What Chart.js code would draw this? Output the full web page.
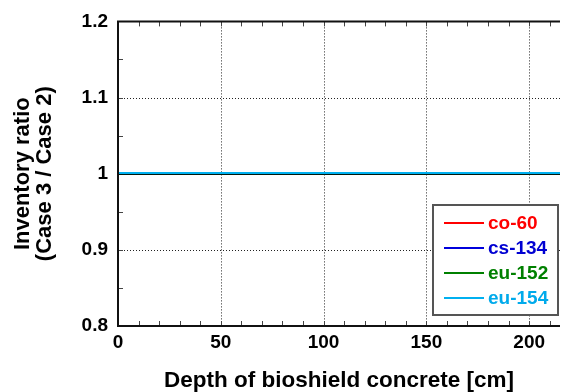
<!DOCTYPE html>
<html>
<head>
<meta charset="utf-8">
<script src="https://cdn.jsdelivr.net/npm/chart.js@4"></script>
<style>
  body { margin: 0; background: #fff; }
</style>
</head>
<body>
<canvas id="myChart" width="561" height="392"></canvas>
<script>
const depths = [0, 10, 20, 30, 40, 50, 60, 70, 80, 90, 100, 110, 120, 130, 140, 150, 160, 170, 180, 190, 200, 210, 215]
const co60 = [1, 1, 1, 1, 1, 1, 1, 1, 1, 1, 1, 1, 1, 1, 1, 1, 1, 1, 1, 1, 1, 1, 1]
const cs134 = [1, 1, 1, 1, 1, 1, 1, 1, 1, 1, 1, 1, 1, 1, 1, 1, 1, 1, 1, 1, 1, 1, 1]
const eu152 = [1, 1, 1, 1, 1, 1, 1, 1, 1, 1, 1, 1, 1, 1, 1, 1, 1, 1, 1, 1, 1, 1, 1]
const eu154 = [1.001, 1.001, 1.001, 1.001, 1.001, 1.001, 1.001, 1.001, 1.001, 1.001, 1.001, 1.001, 1.001, 1.001, 1.001, 1.001, 1.001, 1.001, 1.001, 1.001, 1.001, 1.001, 1.001]
const reference = [1, 1, 1, 1, 1, 1, 1, 1, 1, 1, 1, 1, 1, 1, 1, 1, 1, 1, 1, 1, 1, 1, 1]

const xTicks = [0, 50, 100, 150, 200]
const yTicks = [0.8, 0.9, 1, 1.1, 1.2]

const redColor = 'rgb(255, 0, 0)'
const blueColor = 'rgb(0, 0, 220)'
const greenColor = 'rgb(0, 128, 0)'
const cyanColor = 'rgb(0, 176, 240)'

const fontFamily = '"Liberation Sans", Arial, sans-serif'

const toPoints = (ys) => ys.map((y, i) => ({ x: depths[i], y: y }))

// frame, dotted grid and inward minor ticks
const framePlugin = {
    id: 'frame',
    beforeDatasetsDraw(chart) {
        const { ctx, chartArea: a, scales: { x, y } } = chart
        ctx.save()
        ctx.strokeStyle = '#222'
        ctx.lineWidth = 1
        ctx.setLineDash([1, 2])
        xTicks.slice(1).forEach(v => {
            const px = Math.round(x.getPixelForValue(v)) + 0.5
            ctx.beginPath(); ctx.moveTo(px, a.top); ctx.lineTo(px, a.bottom); ctx.stroke()
        })
        yTicks.slice(1, -1).forEach(v => {
            const py = Math.round(y.getPixelForValue(v)) + 0.5
            ctx.beginPath(); ctx.moveTo(a.left, py); ctx.lineTo(a.right, py); ctx.stroke()
        })
        ctx.setLineDash([])
        ctx.strokeStyle = '#444'
        for (let v = 10; v < 215; v += 10) {
            const px = Math.round(x.getPixelForValue(v)) + 0.5
            ctx.beginPath(); ctx.moveTo(px, a.bottom); ctx.lineTo(px, a.bottom - 5); ctx.stroke()
            ctx.beginPath(); ctx.moveTo(px, a.top); ctx.lineTo(px, a.top + 5); ctx.stroke()
        }
        for (let v = 0.85; v < 1.2; v += 0.05) {
            const py = Math.round(y.getPixelForValue(v)) + 0.5
            ctx.beginPath(); ctx.moveTo(a.left, py); ctx.lineTo(a.left + 5, py); ctx.stroke()
        }
        ctx.restore()
    },
    afterDatasetsDraw(chart) {
        const { ctx, chartArea: a } = chart
        ctx.save()
        ctx.strokeStyle = '#111'
        ctx.lineWidth = 2
        ctx.beginPath()
        ctx.moveTo(a.right, a.top)
        ctx.lineTo(a.left, a.top)
        ctx.lineTo(a.left, a.bottom)
        ctx.lineTo(a.right, a.bottom)
        ctx.stroke()

        // legend box
        const bx = 433, by = 205, bw = 125, bh = 110
        ctx.fillStyle = '#fff'
        ctx.fillRect(bx, by, bw, bh)
        ctx.strokeStyle = '#555'
        ctx.lineWidth = 2
        ctx.strokeRect(bx, by, bw, bh)
        ctx.font = 'bold 19px ' + fontFamily
        ctx.textBaseline = 'middle'
        chart.data.datasets.filter(d => d.label !== 'ref').forEach((d, i) => {
            const ly = by + 18 + i * 25
            ctx.strokeStyle = d.borderColor
            ctx.lineWidth = 2
            ctx.beginPath(); ctx.moveTo(bx + 11, ly); ctx.lineTo(bx + 51, ly); ctx.stroke()
            ctx.fillStyle = d.textColor
            ctx.fillText(d.label, bx + 55, ly + 1)
        })
        ctx.restore()
    }
}

const ctx = document.getElementById('myChart')

new Chart(ctx, {
    type: 'line',
    data: {
        datasets: [
            { label: 'co-60', data: toPoints(co60), borderColor: redColor, textColor: 'rgb(255, 0, 0)', order: 4 },
            { label: 'cs-134', data: toPoints(cs134), borderColor: blueColor, textColor: 'rgb(0, 0, 210)', order: 3 },
            { label: 'eu-152', data: toPoints(eu152), borderColor: greenColor, textColor: 'rgb(0, 128, 0)', order: 2 },
            { label: 'eu-154', data: toPoints(eu154), borderColor: cyanColor, textColor: 'rgb(0, 170, 235)', order: 0 },
            { label: 'ref', data: toPoints(reference), borderColor: '#000', order: 1 }
        ]
    },
    options: {
        responsive: false,
        animation: false,
        devicePixelRatio: 1,
        layout: { padding: { left: 0, top: 20, right: 1, bottom: 0 } },
        elements: {
            point: { radius: 0 },
            line: { borderWidth: 2, tension: 0 }
        },
        plugins: {
            legend: { display: false },
            tooltip: { enabled: false }
        },
        scales: {
            x: {
                type: 'linear',
                min: 0,
                max: 215,
                afterBuildTicks: (scale) => { scale.ticks = xTicks.map(v => ({ value: v })) },
                afterFit: (scale) => { scale.height = 66 },
                grid: { display: false, drawTicks: false },
                border: { display: false },
                ticks: {
                    color: '#000',
                    padding: 5,
                    maxRotation: 0,
                    font: { family: fontFamily, size: 19, weight: 'bold' }
                },
                title: {
                    display: true,
                    text: 'Depth of bioshield concrete [cm]',
                    color: '#000',
                    padding: { top: 0, bottom: 0 },
                    font: { family: fontFamily, size: 22.5, weight: 'bold', lineHeight: 1.0 }
                }
            },
            y: {
                type: 'linear',
                min: 0.8,
                max: 1.2,
                afterBuildTicks: (scale) => { scale.ticks = yTicks.map(v => ({ value: v })) },
                afterFit: (scale) => { scale.width = 118 },
                grid: { display: false, drawTicks: false },
                border: { display: false },
                ticks: {
                    color: '#000',
                    padding: 10,
                    callback: (v) => String(Math.round(v * 10) / 10),
                    font: { family: fontFamily, size: 19, weight: 'bold' }
                },
                title: {
                    display: true,
                    text: ['Inventory ratio', '(Case 3 / Case 2)'],
                    color: '#000',
                    padding: { top: 12, bottom: 0 },
                    font: { family: fontFamily, size: 22, weight: 'bold', lineHeight: 1.0 }
                }
            }
        }
    },
    plugins: [framePlugin]
})
</script>
</body>
</html>
